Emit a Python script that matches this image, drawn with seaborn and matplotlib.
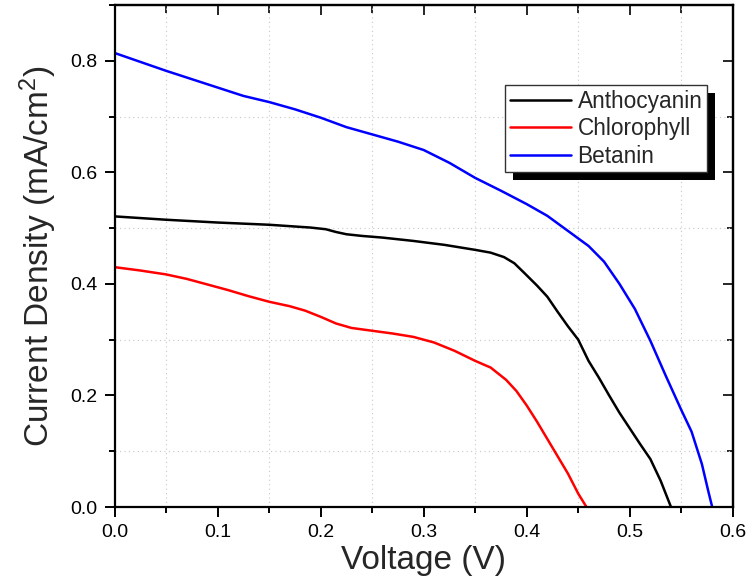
import numpy as np
import pandas as pd
import matplotlib
matplotlib.use("Agg")
import matplotlib.pyplot as plt
from matplotlib.patches import Rectangle
from matplotlib.ticker import MultipleLocator
import seaborn as sns

# ---- data ----
anth_v = [0.0, 0.05, 0.10, 0.15, 0.19, 0.205, 0.215, 0.225, 0.24, 0.26, 0.29, 0.32, 0.35,
          0.365, 0.378, 0.388, 0.398, 0.41, 0.42, 0.43, 0.44, 0.45, 0.46, 0.47, 0.48,
          0.49, 0.50, 0.51, 0.52, 0.53, 0.54]
anth_j = [0.521, 0.515, 0.510, 0.506, 0.501, 0.498, 0.493, 0.489, 0.486, 0.483, 0.477, 0.470, 0.461,
          0.456, 0.448, 0.437, 0.419, 0.397, 0.377, 0.350, 0.324, 0.300, 0.262, 0.232, 0.200,
          0.169, 0.141, 0.113, 0.086, 0.047, 0.0]

chl_v = [0.0, 0.025, 0.05, 0.07, 0.09, 0.11, 0.13, 0.15, 0.17, 0.185, 0.20, 0.215, 0.23,
         0.25, 0.27, 0.29, 0.31, 0.33, 0.35, 0.365, 0.38, 0.39, 0.40, 0.41, 0.42, 0.43,
         0.44, 0.45, 0.458]
chl_j = [0.430, 0.424, 0.417, 0.409, 0.399, 0.389, 0.378, 0.368, 0.360, 0.352, 0.341, 0.329, 0.321,
         0.316, 0.311, 0.305, 0.295, 0.280, 0.262, 0.250, 0.228, 0.208, 0.182, 0.153, 0.122, 0.091,
         0.060, 0.024, 0.0]

bet_v = [0.0, 0.025, 0.05, 0.075, 0.10, 0.125, 0.15, 0.175, 0.20, 0.225, 0.25, 0.275, 0.30,
         0.325, 0.35, 0.375, 0.40, 0.42, 0.44, 0.46, 0.475, 0.49, 0.505, 0.52, 0.535, 0.55,
         0.56, 0.57, 0.576, 0.58]
bet_j = [0.814, 0.798, 0.782, 0.767, 0.752, 0.737, 0.726, 0.713, 0.698, 0.681, 0.668, 0.655, 0.640,
         0.617, 0.590, 0.567, 0.543, 0.522, 0.495, 0.468, 0.440, 0.400, 0.355, 0.298, 0.235, 0.174,
         0.135, 0.077, 0.030, 0.0]

series_names = ["Anthocyanin", "Chlorophyll", "Betanin"]
series_colors = ["#000000", "#ff0000", "#0000ff"]
x_ticks = [0.0, 0.1, 0.2, 0.3, 0.4, 0.5, 0.6]
y_ticks = [0.0, 0.2, 0.4, 0.6, 0.8]

df = pd.concat([
    pd.DataFrame({"Voltage": anth_v, "J": anth_j, "Dye": series_names[0]}),
    pd.DataFrame({"Voltage": chl_v, "J": chl_j, "Dye": series_names[1]}),
    pd.DataFrame({"Voltage": bet_v, "J": bet_j, "Dye": series_names[2]}),
], ignore_index=True)

sns.set_style("ticks")
plt.rcParams["font.family"] = ["Liberation Sans", "DejaVu Sans"]
plt.rcParams["mathtext.default"] = "regular"

fig = plt.figure(figsize=(7.47, 5.85), dpi=100)
ax = fig.add_axes([0.1533, 0.1333, 0.8277, 0.8582])

sns.lineplot(data=df, x="Voltage", y="J", hue="Dye", hue_order=series_names,
             palette=dict(zip(series_names, series_colors)), estimator=None,
             sort=False, linewidth=1.8, ax=ax, legend=False)
for ln in ax.lines:
    ln.set_solid_joinstyle("round")
    ln.set_solid_capstyle("round")

ax.set_xlim(0, 0.6)
ax.set_ylim(0, 0.9)
ax.set_xticks(x_ticks)
ax.set_xticklabels([f"{v:.1f}" for v in x_ticks])
ax.set_yticks(y_ticks)
ax.set_yticklabels([f"{v:.1f}" for v in y_ticks])
ax.xaxis.set_minor_locator(MultipleLocator(0.05))
ax.yaxis.set_minor_locator(MultipleLocator(0.1))

ax.grid(which="minor", linestyle=(0, (1, 3)), color="#c8c8c8", linewidth=0.8)
ax.grid(which="major", visible=False)

for s in ax.spines.values():
    s.set_visible(True)
    s.set_linewidth(1.6)
    s.set_color("black")

ax.tick_params(which="both", bottom=True, left=True, top=False, right=False,
               direction="out", width=1.4, colors="black")
ax.tick_params(which="major", length=7, labelsize=14, pad=5)
ax.tick_params(which="minor", length=4)

# inward ticks on top/right via secondary axes
sec_x = ax.secondary_xaxis("top")
sec_x.set_xticks(x_ticks)
sec_x.xaxis.set_minor_locator(MultipleLocator(0.05))
sec_x.tick_params(which="major", direction="in", width=1.4, labeltop=False, length=7)
sec_x.tick_params(which="minor", direction="in", width=1.4, labeltop=False, length=6)
sec_x.spines["top"].set_linewidth(1.6)
sec_y = ax.secondary_yaxis("right")
sec_y.set_yticks(y_ticks)
sec_y.yaxis.set_minor_locator(MultipleLocator(0.1))
sec_y.tick_params(which="major", direction="in", width=1.4, labelright=False, length=7)
sec_y.tick_params(which="minor", direction="in", width=1.4, labelright=False, length=4)
sec_y.spines["right"].set_linewidth(1.6)

ax.set_xlabel("Voltage (V)", fontsize=24, labelpad=3)
ax.set_ylabel("Current Density (mA/cm$^{2}$)", fontsize=24, labelpad=8)

handles = [plt.Line2D([], [], color=c, linewidth=1.8) for c in series_colors]
leg = ax.legend(handles, series_names, loc="upper left",
                bbox_to_anchor=(0.6316, 0.8406), fontsize=16.3,
                frameon=True, fancybox=False, framealpha=1, edgecolor="#333333",
                handlelength=2.7, handletextpad=0.3, labelspacing=0.2,
                borderpad=0.2, borderaxespad=0.0)
leg.get_frame().set_linewidth(1.0)
leg.set_zorder(6)

fig.canvas.draw()
bb = leg.get_window_extent()
inv = ax.transAxes.inverted()
(x0, y0) = inv.transform((bb.x0 + 8, bb.y0 - 8))
(x1, y1) = inv.transform((bb.x1 + 8, bb.y1 - 8))
ax.add_patch(Rectangle((x0, y0), x1 - x0, y1 - y0, transform=ax.transAxes,
                       facecolor="black", edgecolor="none", zorder=5.5, clip_on=False))

fig.savefig("out.png", dpi=100)
